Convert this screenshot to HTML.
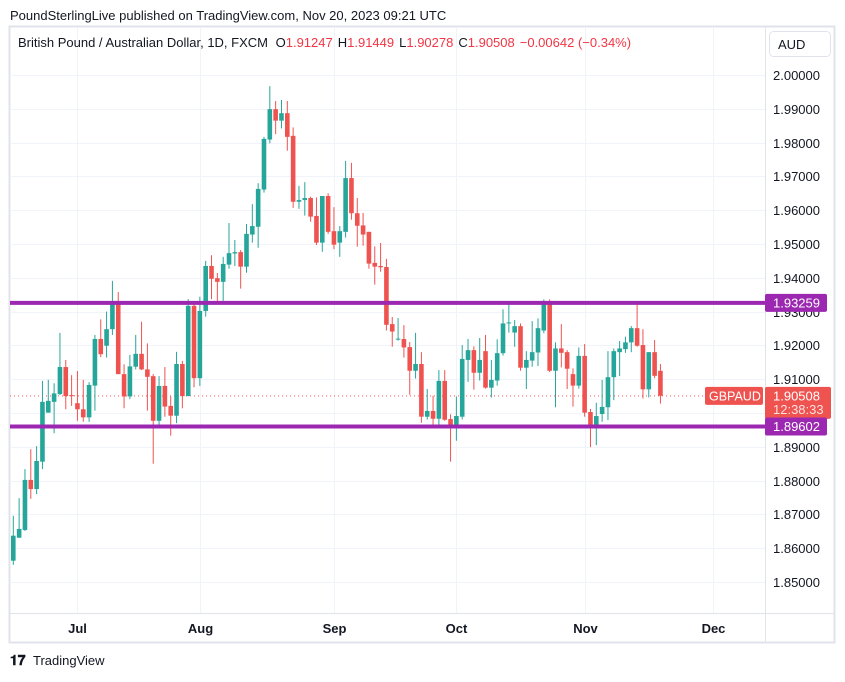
<!DOCTYPE html>
<html><head><meta charset="utf-8">
<style>
body{margin:0;background:#fff;width:845px;height:677px;overflow:hidden;font-family:"Liberation Sans",sans-serif;}
svg text{font-family:"Liberation Sans",sans-serif;}
</style></head>
<body>
<svg id="chart" width="845" height="677" xmlns="http://www.w3.org/2000/svg">
<text x="10" y="20" font-size="13" fill="#131722">PoundSterlingLive published on TradingView.com, Nov 20, 2023 09:21 UTC</text>
<rect x="9.5" y="26.5" width="825" height="616" fill="#fff" stroke="#e0e3eb" stroke-width="2"/>
<g id="grid"></g>
<line x1="10" x2="834" y1="613.5" y2="613.5" stroke="#e0e3eb"/>
<line x1="765.5" x2="765.5" y1="27" y2="642" stroke="#e0e3eb"/>
<g id="yaxis"></g>
<g id="candles"></g>
<g id="levels"></g>
<g id="lasttag"></g>
<g id="xaxis"></g>
<text x="18" y="47" font-size="13" fill="#131722">British Pound / Australian Dollar, 1D, FXCM <tspan dx="4">O</tspan><tspan fill="#f23645">1.91247</tspan><tspan dx="5">H</tspan><tspan fill="#f23645">1.91449</tspan><tspan dx="5">L</tspan><tspan fill="#f23645">1.90278</tspan><tspan dx="5">C</tspan><tspan fill="#f23645">1.90508</tspan><tspan dx="5" fill="#f23645">−0.00642 (−0.34%)</tspan></text>
<rect x="769.5" y="31.5" width="61" height="25" rx="4" fill="#fff" stroke="#e0e3eb"/>
<text x="778" y="49" font-size="13" fill="#131722">AUD</text>
<g>
<text x="10" y="665" font-size="14" font-weight="bold" fill="#131722">𝟏𝟕</text>
<text x="33" y="665" font-size="13" fill="#131722">TradingView</text>
</g>
</svg>
<script>
const opens=[1.8563,1.8631,1.8654,1.8802,1.8775,1.8856,1.9001,1.9033,1.9056,1.9136,1.9053,1.9029,1.9011,1.8987,1.9081,1.9219,1.9199,1.9248,1.9325,1.9115,1.9049,1.9137,1.9175,1.9129,1.9109,1.8977,1.9080,1.9021,1.8992,1.9145,1.9050,1.9317,1.9103,1.9302,1.9435,1.9399,1.9388,1.9439,1.9472,1.9476,1.9433,1.9528,1.9551,1.9661,1.9809,1.9899,1.9865,1.9887,1.9820,1.9625,1.9630,1.9636,1.9583,1.9504,1.9642,1.9538,1.9504,1.9536,1.9695,1.9591,1.9555,1.9536,1.9444,1.9435,1.9432,1.9263,1.9218,1.9219,1.9195,1.9125,1.9145,1.8989,1.9006,1.8983,1.9095,1.8982,1.8964,1.8989,1.9157,1.9186,1.9119,1.9183,1.9075,1.9096,1.9177,1.9265,1.9238,1.9257,1.9134,1.9155,1.9179,1.9244,1.9325,1.9125,1.9191,1.9180,1.9115,1.9081,1.9169,1.9003,1.8960,1.8997,1.9017,1.9106,1.9180,1.9189,1.9209,1.9251,1.9201,1.9070,1.9180,1.91247];
const highs=[1.8696,1.8748,1.8834,1.8893,1.8902,1.9095,1.9098,1.9088,1.9237,1.9157,1.9112,1.9124,1.9098,1.9091,1.9231,1.9277,1.9300,1.9391,1.9358,1.9144,1.9172,1.9231,1.9270,1.9206,1.9115,1.9109,1.9136,1.9049,1.9181,1.9154,1.9337,1.9323,1.9344,1.9450,1.9467,1.9414,1.9462,1.9562,1.9512,1.9482,1.9559,1.9618,1.9680,1.9817,1.9967,1.9923,1.9926,1.9923,1.9845,1.9672,1.9683,1.9640,1.9638,1.9642,1.9650,1.9609,1.9553,1.9746,1.9740,1.9636,1.9592,1.9536,1.9493,1.9503,1.9456,1.9284,1.9281,1.9260,1.9210,1.9237,1.9180,1.9071,1.9051,1.9127,1.9127,1.8996,1.9049,1.9201,1.9219,1.9197,1.9222,1.9231,1.9157,1.9218,1.9307,1.9325,1.9275,1.9265,1.9183,1.9272,1.9280,1.9336,1.9336,1.9209,1.9263,1.9186,1.9132,1.9194,1.9204,1.9012,1.9030,1.9098,1.9183,1.9191,1.9213,1.9226,1.9257,1.9320,1.9248,1.9180,1.9216,1.91449];
const lows=[1.8551,1.8631,1.8651,1.8746,1.8760,1.8834,1.9001,1.8940,1.9053,1.9011,1.9021,1.8977,1.8974,1.8974,1.9007,1.9165,1.9164,1.9231,1.9115,1.9014,1.9041,1.9129,1.9127,1.9007,1.8850,1.8962,1.8989,1.8933,1.8970,1.9014,1.9050,1.9076,1.9080,1.9285,1.9337,1.9329,1.9332,1.9427,1.9435,1.9368,1.9415,1.9504,1.9489,1.9652,1.9798,1.9825,1.9842,1.9776,1.9607,1.9604,1.9584,1.9566,1.9497,1.9477,1.9530,1.9485,1.9462,1.9519,1.9572,1.9492,1.9495,1.9427,1.9380,1.9418,1.9244,1.9196,1.9214,1.9164,1.9054,1.9102,1.8971,1.8981,1.8958,1.8964,1.8977,1.8856,1.8918,1.8981,1.9092,1.9069,1.9096,1.9072,1.9046,1.9081,1.9170,1.9238,1.9196,1.9125,1.9071,1.9137,1.9139,1.9236,1.9121,1.9017,1.9135,1.9071,1.9019,1.9072,1.8989,1.8899,1.8905,1.8974,1.8979,1.9038,1.9109,1.9178,1.9180,1.9196,1.9043,1.9046,1.9103,1.90278];
const closes=[1.8637,1.8657,1.8802,1.8775,1.8858,1.9033,1.9036,1.9058,1.9136,1.9050,1.9050,1.9011,1.8987,1.9083,1.9219,1.9174,1.9248,1.9325,1.9115,1.9049,1.9138,1.9175,1.9129,1.9107,1.8977,1.9080,1.9019,1.8992,1.9145,1.9050,1.9317,1.9103,1.9302,1.9435,1.9397,1.9388,1.9441,1.9473,1.9476,1.9433,1.9530,1.9553,1.9663,1.9811,1.9899,1.9865,1.9887,1.9817,1.9625,1.9630,1.9636,1.9581,1.9504,1.9642,1.9536,1.9498,1.9538,1.9695,1.9591,1.9554,1.9528,1.9442,1.9433,1.9431,1.9261,1.9241,1.9220,1.9194,1.9125,1.9145,1.8989,1.9006,1.8983,1.9095,1.8980,1.8957,1.8991,1.9160,1.9186,1.9119,1.9157,1.9075,1.9098,1.9177,1.9265,1.9268,1.9257,1.9134,1.9157,1.9180,1.9251,1.9325,1.9125,1.9191,1.9178,1.9131,1.9081,1.9169,1.9001,1.8960,1.8991,1.9018,1.9106,1.9183,1.9191,1.9209,1.9251,1.9199,1.9070,1.9180,1.9110,1.90508];
const monthLabels=["Jul","Aug","Sep","Oct","Nov","Dec"];
const monthIndex=[11,32,55,76,98,120];
const priceTicks=[2.00,1.99,1.98,1.97,1.96,1.95,1.94,1.93,1.92,1.91,1.90,1.89,1.88,1.87,1.86,1.85];
const levelValues=[1.93259,1.89602];
const lastPrice=1.90508;

const NS="http://www.w3.org/2000/svg";
const yOf=p=>75+(2.0-p)*3380;
const xOf=i=>13.3+i*5.83;
function mk(tag,attrs,parent){const e=document.createElementNS(NS,tag);for(const k in attrs)e.setAttribute(k,attrs[k]);parent.appendChild(e);return e;}
const grid=document.getElementById('grid'),cg=document.getElementById('candles'),ya=document.getElementById('yaxis'),xa=document.getElementById('xaxis'),lv=document.getElementById('levels'),lt=document.getElementById('lasttag');

priceTicks.forEach(p=>{
  const y=Math.round(yOf(p))+0.5;
  const l=mk('line',{x1:10,x2:765,y1:y,y2:y,stroke:'#f0f3fa'},grid);
  
  
  const t=mk('text',{x:773,y:y+4.5,'font-size':13,fill:'#131722'},ya);
  t.textContent=p.toFixed(5);
  
  
});
monthIndex.forEach((idx,k)=>{
  const x=Math.round(xOf(idx))+0.5;
  const l=mk('line',{x1:x,x2:x,y1:27,y2:613,stroke:'#f0f3fa'},grid);
  
  
  const t=mk('text',{x:x,y:633,'font-size':13,'font-weight':'bold',fill:'#131722','text-anchor':'middle'},xa);
  t.textContent=monthLabels[k];
  
  
});
const ly=yOf(lastPrice);
const dl=mk('line',{x1:10,x2:765,y1:ly,y2:ly,stroke:'#ef5350','stroke-dasharray':'1,3'},grid);


for(let i=0;i<opens.length;i++){
  const up=closes[i]>=opens[i];
  const col=up?'#26a69a':'#ef5350';
  const x=xOf(i);
  const w=mk('line',{x1:x,x2:x,y1:yOf(highs[i]),y2:yOf(lows[i]),stroke:col,'stroke-width':1},cg);
  
  
  const top=yOf(Math.max(opens[i],closes[i])),bot=yOf(Math.min(opens[i],closes[i]));
  const b=mk('rect',{x:x-2.3,y:top,width:4.6,height:Math.max(1,bot-top),fill:col},cg);
  
  
}
// last price tags (drawn before level tags so the lower level tag sits on top)
const g1=mk('rect',{x:705,y:ly-9,width:58,height:18,rx:2,fill:'#ef5350'},lt);


const g1t=mk('text',{x:709,y:ly+4.5,'font-size':12.5,fill:'#fff'},lt);
g1t.textContent='GBPAUD';


const g2=mk('rect',{x:765,y:ly-9,width:66,height:32,rx:2,fill:'#ef5350'},lt);


const g2t=mk('text',{x:773,y:ly+4.5,'font-size':13,fill:'#fff'},lt);
g2t.textContent=lastPrice.toFixed(5);


const g3t=mk('text',{x:773,y:ly+18,'font-size':13,fill:'#fde0df'},lt);
g3t.textContent='12:38:33';


levelValues.forEach(v=>{
  const y=yOf(v);
  const l=mk('line',{x1:10,x2:765,y1:y,y2:y,stroke:'#9c27b0','stroke-width':4},lv);
  
  
  const r=mk('rect',{x:765,y:y-9,width:62,height:18,rx:2,fill:'#9c27b0'},lt);
  
  
  const t=mk('text',{x:773,y:y+4.5,'font-size':13,fill:'#fff'},lt);
  t.textContent=v.toFixed(5);
  
  
});
</script>
</body></html>
